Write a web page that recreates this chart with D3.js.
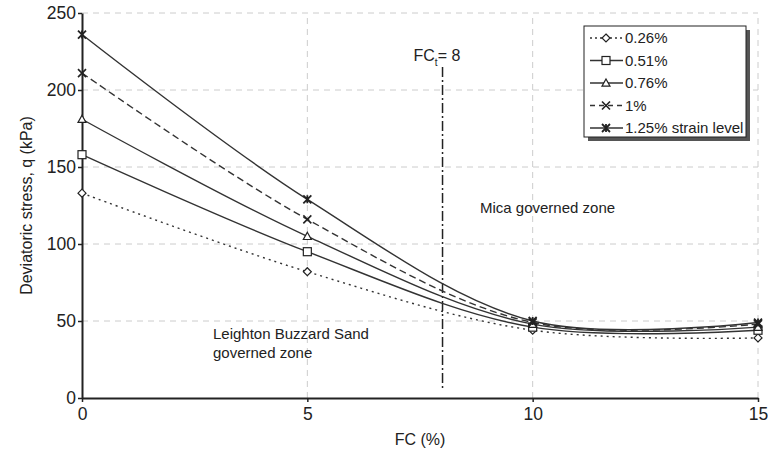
<!DOCTYPE html>
<html>
<head>
<meta charset="utf-8">
<script src="https://cdn.jsdelivr.net/npm/d3@7"></script>
<style>
  body { margin: 0; background: #fff; }
  text { font-family: "Liberation Sans", Arial, sans-serif; fill: #222; }
</style>
</head>
<body>
<div id="chart"></div>
<script>
const fcValues = [0, 5, 10, 15];
const strainLabels = ["0.26%", "0.51%", "0.76%", "1%", "1.25% strain level"];
const q026 = [133, 82, 44, 39];
const q051 = [158, 95, 46, 44];
const q076 = [181, 105, 48, 46];
const q100 = [211, 116, 49, 48];
const q125 = [236, 129, 50, 49];
const xTicks = [0, 5, 10, 15];
const yTicks = [0, 50, 100, 150, 200, 250];
const fcThreshold = 8;

const series = [
  { name: strainLabels[0], values: q026, dash: "2,4", marker: "diamond" },
  { name: strainLabels[1], values: q051, dash: null, marker: "square" },
  { name: strainLabels[2], values: q076, dash: null, marker: "triangle" },
  { name: strainLabels[3], values: q100, dash: "7,4", marker: "cross" },
  { name: strainLabels[4], values: q125, dash: null, marker: "star" }
];

const width = 768, height = 452;
const margin = { top: 13, right: 10, bottom: 54, left: 82 };
const svg = d3.select("#chart").append("svg").attr("width", width).attr("height", height);

const x = d3.scaleLinear().domain([0, 15]).range([margin.left, width - margin.right]);
const y = d3.scaleLinear().domain([0, 250]).range([height - margin.bottom, margin.top]);

// grid
svg.append("g").selectAll("line").data(yTicks.filter(d => d > 0)).join("line")
  .attr("x1", x(0)).attr("x2", x(15)).attr("y1", d => y(d)).attr("y2", d => y(d))
  .attr("stroke", "#ccc").attr("stroke-dasharray", "6,5");
svg.append("g").selectAll("line").data(xTicks.filter(d => d > 0)).join("line")
  .attr("x1", d => x(d)).attr("x2", d => x(d)).attr("y1", y(0)).attr("y2", y(250))
  .attr("stroke", "#ccc").attr("stroke-dasharray", "6,5");

// threshold line
svg.append("line")
  .attr("x1", x(fcThreshold)).attr("x2", x(fcThreshold))
  .attr("y1", y(215)).attr("y2", y(5))
  .attr("stroke", "#222").attr("stroke-width", 1.5).attr("stroke-dasharray", "10,3,2,3");

// axes
const xAxis = svg.append("g").attr("transform", `translate(0,${y(0)})`)
  .call(d3.axisBottom(x).tickValues(xTicks).tickSize(4).tickSizeOuter(0).tickPadding(6));
const yAxis = svg.append("g").attr("transform", `translate(${x(0)},0)`)
  .call(d3.axisLeft(y).tickValues(yTicks).tickSize(4).tickSizeOuter(0).tickPadding(2));
[xAxis, yAxis].forEach(a => {
  a.select(".domain").attr("stroke", "#222").attr("stroke-width", 2);
  a.selectAll(".tick line").attr("stroke", "#222").attr("stroke-width", 1.5);
  a.selectAll(".tick text").attr("font-size", 17.5).attr("fill", "#222")
    .attr("font-family", "Liberation Sans, Arial, sans-serif");
});

// lines
const line = d3.line()
  .x((d, i) => x(fcValues[i]))
  .y(d => y(d))
  .curve(d3.curveCatmullRom.alpha(0.5));

function drawMarker(g, type, cx, cy) {
  const s = 4;
  const m = g.append("g").attr("transform", `translate(${cx},${cy})`)
    .attr("stroke", "#222").attr("stroke-width", 1.2).attr("fill", "#fff");
  if (type === "diamond") m.append("path").attr("d", `M0,${-s}L${s},0L0,${s}L${-s},0Z`);
  if (type === "square") m.append("rect").attr("x", -s).attr("y", -s).attr("width", 2 * s).attr("height", 2 * s);
  if (type === "triangle") m.append("path").attr("d", `M0,${-s}L${s},${s * 0.8}L${-s},${s * 0.8}Z`);
  if (type === "cross") m.append("path").attr("d", `M${-s},${-s}L${s},${s}M${-s},${s}L${s},${-s}`).attr("stroke-width", 1.6);
  if (type === "star") m.append("path").attr("d", `M${-s},${-s}L${s},${s}M${-s},${s}L${s},${-s}M0,${-s}L0,${s}`).attr("stroke-width", 1.8);
}

series.forEach(s => {
  svg.append("path").datum(s.values)
    .attr("d", line).attr("fill", "none")
    .attr("stroke", "#333").attr("stroke-width", 1.4)
    .attr("stroke-dasharray", s.dash);
});
series.forEach(s => {
  s.values.forEach((v, i) => drawMarker(svg, s.marker, x(fcValues[i]), y(v)));
});

// annotations
const ft = svg.append("text").attr("x", x(fcThreshold) - 29).attr("y", 61).attr("font-size", 16);
ft.append("tspan").text("FC");
ft.append("tspan").attr("dy", 5).attr("font-size", 10).text("t");
ft.append("tspan").attr("dy", -5).text("= 8");
svg.append("text").attr("x", 480).attr("y", 213).attr("font-size", 15).text("Mica governed zone");
svg.append("text").attr("x", 213).attr("y", 339).attr("font-size", 15).text("Leighton Buzzard Sand");
svg.append("text").attr("x", 213).attr("y", 358).attr("font-size", 15).text("governed zone");

// axis titles
svg.append("text").attr("x", x(7.5)).attr("y", 445).attr("text-anchor", "middle").attr("font-size", 16).text("FC (%)");
svg.append("text").attr("transform", `translate(32,${y(125)}) rotate(-90)`)
  .attr("text-anchor", "middle").attr("font-size", 16).text("Deviatoric stress, q (kPa)");

// legend
const lg = svg.append("g");
lg.append("rect").attr("x", 588).attr("y", 30).attr("width", 162).attr("height", 111).attr("fill", "#555");
lg.append("rect").attr("x", 584).attr("y", 26).attr("width", 162).attr("height", 111)
  .attr("fill", "#fff").attr("stroke", "#222").attr("stroke-width", 1);
series.forEach((s, i) => {
  const ly = 38 + i * 22.5;
  lg.append("line").attr("x1", 590).attr("x2", 623).attr("y1", ly).attr("y2", ly)
    .attr("stroke", "#333").attr("stroke-width", 1.4).attr("stroke-dasharray", s.dash ? (s.marker === "diamond" ? "2,3" : "5,4") : null);
  drawMarker(lg, s.marker, 606, ly);
  lg.append("text").attr("x", 625).attr("y", ly + 5).attr("font-size", 15).text(s.name);
});
</script>
</body>
</html>
